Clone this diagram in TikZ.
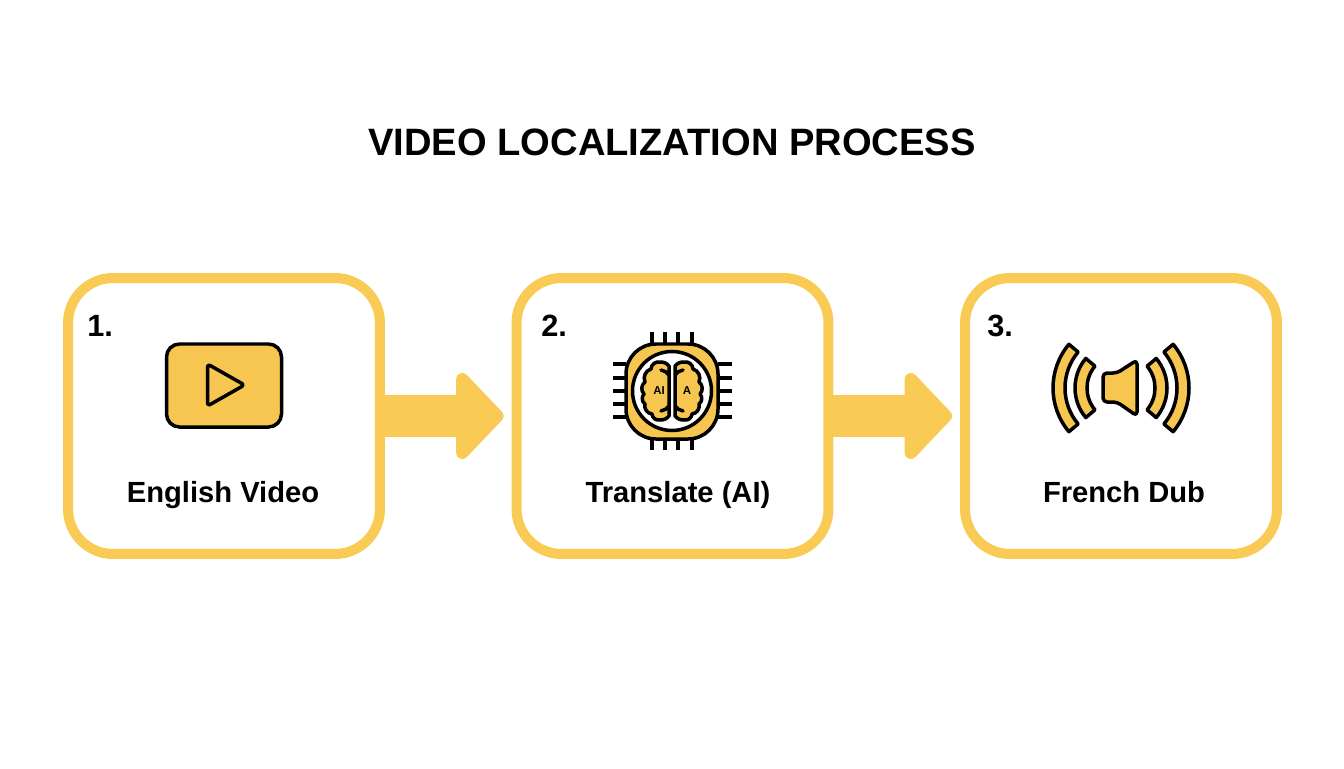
\documentclass[tikz,border=0pt]{standalone}
\usepackage{fontspec}
\setmainfont{Liberation Sans}
\usetikzlibrary{arrows.meta}
\definecolor{gold}{HTML}{F9CB55}
\definecolor{goldicon}{HTML}{F6C650}
\tikzset{
  stepbox/.style={draw=gold,line width=0.2cm,fill=white,rounded corners=0.9cm,minimum width=6.24cm,minimum height=5.52cm},
  flowarrow/.style={draw=gold,line width=0.84cm,shorten >=0.16cm,-{Triangle[length=1cm,width=2.04cm,round,line width=0.36cm]}},
  icon/.style={draw=black,fill=goldicon,line width=0.07cm,line join=round},
  iconline/.style={draw=black,line width=0.07cm,line cap=round},
  numtext/.style={font=\fontsize{17.5}{20}\selectfont\bfseries,anchor=base west,inner sep=0pt},
  steptext/.style={font=\fontsize{16.6}{19}\selectfont\bfseries,anchor=base,inner sep=0pt},
  tinytext/.style={font=\fontsize{6.5}{7}\selectfont\bfseries,inner sep=0pt}
}
\begin{document}
\begin{tikzpicture}[x=0.02cm,y=0.02cm]
\useasboundingbox (0,0) rectangle (1344,768);

%Title
\node[font=\fontsize{21.7}{26}\selectfont\bfseries,inner sep=0pt] (title) at (672,626) {VIDEO LOCALIZATION PROCESS};

%Marking boxes
\node[stepbox] (english) at (224,352) {};
\node[stepbox] (translate) at (672.5,352) {};
\node[stepbox] (french) at (1121,352) {};

%Arrows between boxes
\draw[flowarrow] (english.east) -- (translate.west);
\draw[flowarrow] (translate.east) -- (french.west);

%Numbers and labels
\node[numtext] (numa) at (87,431) {1.};
\node[numtext] (numb) at (541,431) {2.};
\node[numtext] (numc) at (987,431) {3.};
\node[steptext] (labela) at (223,266) {English Video};
\node[steptext] (labelb) at (678,266) {Translate (AI)};
\node[steptext] (labelc) at (1124,266) {French Dub};

%Video icon
\draw[icon,rounded corners=0.26cm] (166.5,341) rectangle (281.5,424);
\draw[iconline,line join=round,rounded corners=0.06cm] (207.5,404) -- (244.5,383) -- (207.5,362) -- cycle;

%Chip pins
\foreach \x in {652,665,678,692} {
  \draw[iconline,line cap=butt] (\x,425) -- (\x,436);
  \draw[iconline,line cap=butt] (\x,318) -- (\x,330);
}
\foreach \y in {351,364,377,390,404} {
  \draw[iconline,line cap=butt] (613,\y) -- (626,\y);
  \draw[iconline,line cap=butt] (718,\y) -- (732,\y);
}
%Chip body and circle
\draw[icon,rounded corners=0.6cm] (626,329) rectangle (718,424);
\draw[draw=black,fill=white,line width=0.07cm] (672,377) circle (39.5);

%Brain lobes
\foreach \s in {1,-1} {
\begin{scope}[shift={(672,377)},xscale=\s]
\draw[icon] (-3,25) to[bend right=25] (-12,29) to[bend right=50] (-21,22) to[bend right=50] (-27,9)
  to[bend right=50] (-28,-3) to[bend right=50] (-27,-13) to[bend right=50] (-20,-23)
  to[bend right=50] (-12,-29) to[bend right=25] (-3,-25) -- cycle;
\draw[iconline] (-3,16) to[bend right=20] (-11,21);
\draw[iconline] (-3,-15) to[bend left=20] (-11,-20);
\end{scope}
}
\node[tinytext] (ailabel) at (659,377) {AI};
\node[tinytext] (alabel) at (687,377) {A};

%Speaker
\draw[icon,rounded corners=0.08cm] (1103,395) -- (1117,395) -- (1137,408) -- (1137,352) -- (1117,366) -- (1103,366) -- cycle;
\foreach \a/\r in {180/34,0/34,180/56,0/56} {
\pgfmathsetmacro{\q}{\r+12}
\draw[icon] (1121,380) ++(\a-40:\r) arc (\a-40:\a+40:\r) -- ++(\a+40:12) arc (\a+40:\a-40:\q) -- cycle;
}
\end{tikzpicture}
\end{document}
